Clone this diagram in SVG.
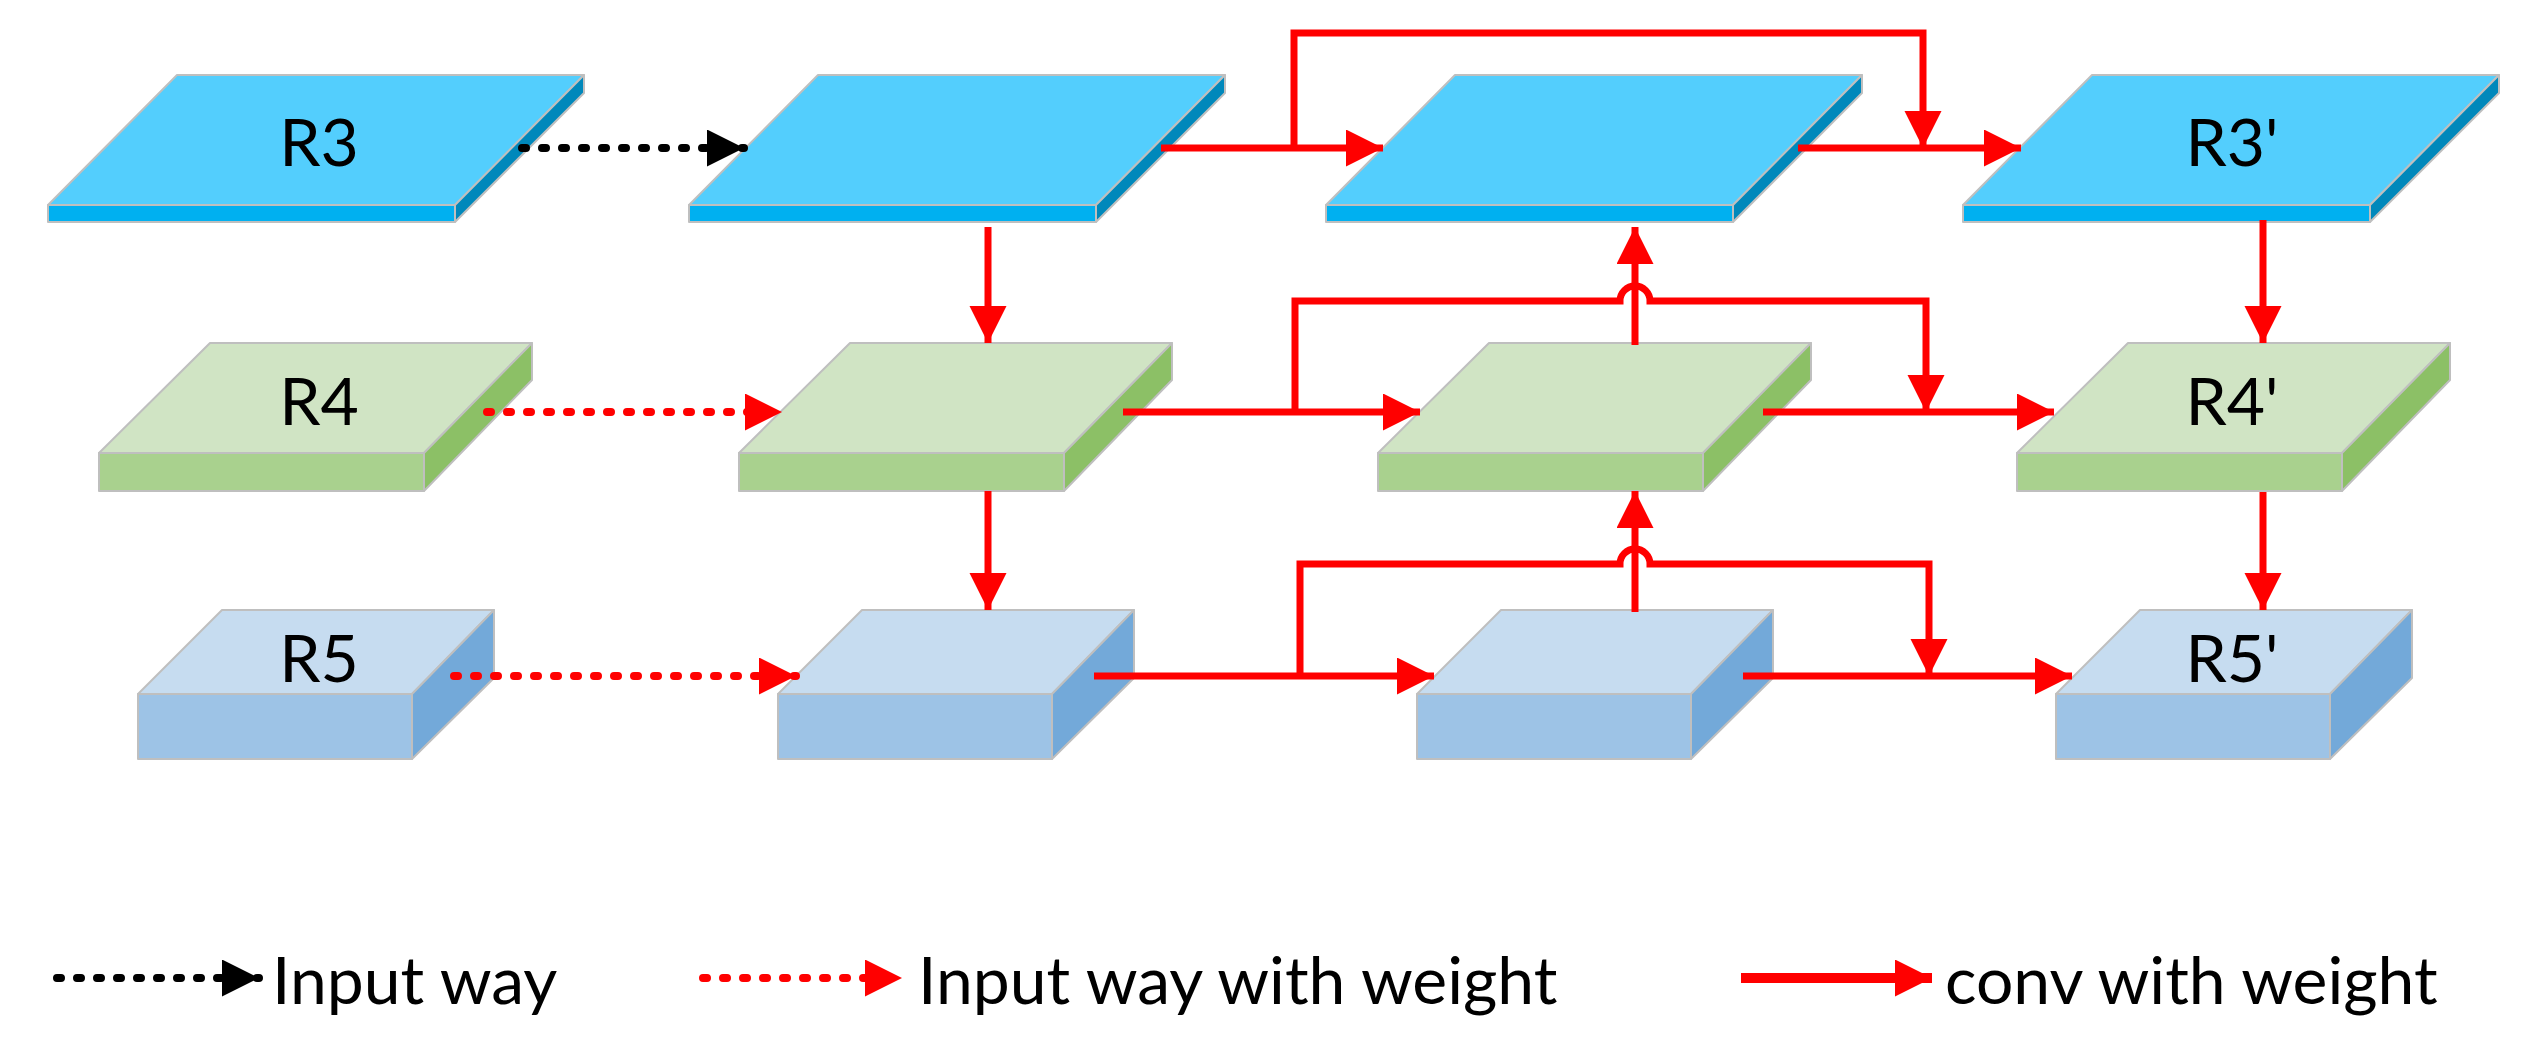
<svg xmlns="http://www.w3.org/2000/svg" width="2535" height="1044" viewBox="0 0 2535 1044">
<style>
.t{font-family:Lato,"Noto Sans",sans-serif;font-size:66px;fill:#000}
.sl{stroke:#BFBFBF;stroke-width:2;stroke-linejoin:round}
.a{fill:#53CEFD}.b{fill:#00B0F0}.c{fill:#0088BB}
.d{fill:#D0E4C4}.e{fill:#A9D18E}.f{fill:#8CC066}
.g{fill:#C6DCF0}.h{fill:#9DC3E6}.i{fill:#73A9D9}
.r{fill:none;stroke:#FF0000;stroke-width:7;marker-end:url(#ar)}
.rd{fill:none;stroke:#FF0000;stroke-width:8;stroke-dasharray:4 16;stroke-linecap:round;marker-end:url(#ar)}
.kd{fill:none;stroke:#000;stroke-width:8;stroke-dasharray:4 16;stroke-linecap:round;marker-end:url(#ak)}
</style>
<defs>
<marker id="ar" markerUnits="userSpaceOnUse" markerWidth="38" markerHeight="38" refX="37" refY="18.5" orient="auto"><path d="M0,0 L37,18.5 L0,37 z" fill="#FF0000"/></marker>
<marker id="ak" markerUnits="userSpaceOnUse" markerWidth="38" markerHeight="38" refX="37" refY="18.5" orient="auto"><path d="M0,0 L37,18.5 L0,37 z" fill="#000"/></marker>
<g id="s1"><polygon class="sl a" points="177,75 584,75 455,205 48,205"/><rect class="sl b" x="48" y="205" width="407" height="17"/><polygon class="sl c" points="455,205 584,75 584,93 455,222"/></g>
<g id="s2"><polygon class="sl d" points="210,343 532,343 424,453 99,453"/><rect class="sl e" x="99" y="453" width="325" height="38"/><polygon class="sl f" points="424,453 532,343 532,380 424,491"/></g>
<g id="s3"><polygon class="sl g" points="222,610 494,610 412,694 138,694"/><rect class="sl h" x="138" y="694" width="274" height="65"/><polygon class="sl i" points="412,694 494,610 494,678 412,759"/></g>
</defs>
<g id="R3"><use href="#s1"/><text class="t" x="319" y="166" text-anchor="middle">R3</text></g>
<g id="R4"><use href="#s2"/><text class="t" x="319" y="425" text-anchor="middle">R4</text></g>
<g id="R5"><use href="#s3"/><text class="t" x="319" y="682" text-anchor="middle">R5</text></g>
<g id="P3"><use href="#s1" x="641"/></g>
<g id="P4"><use href="#s2" x="640"/></g>
<g id="P5"><use href="#s3" x="640"/></g>
<g id="N3"><use href="#s1" x="1278"/></g>
<g id="N4"><use href="#s2" x="1279"/></g>
<g id="N5"><use href="#s3" x="1279"/></g>
<g id="R3p"><use href="#s1" x="1915"/><text class="t" x="2232" y="166" text-anchor="middle">R3'</text></g>
<g id="R4p"><use href="#s2" x="1918"/><text class="t" x="2232" y="425" text-anchor="middle">R4'</text></g>
<g id="R5p"><use href="#s3" x="1918"/><text class="t" x="2232" y="682" text-anchor="middle">R5'</text></g>
<g id="connectors">
<path class="kd" d="M522,148 L744,148"/>
<path class="rd" d="M487,412 L782,412"/>
<path class="rd" d="M454,676 L796,676"/>
<path class="r" d="M988,227 V343"/>
<path class="r" d="M988,491 V610"/>
<path class="r" d="M1161,148 H1383"/>
<path class="r" d="M1294,148 V33 H1923 V148"/>
<path class="r" d="M1798,148 H2021"/>
<path class="r" d="M1123,412 H1420"/>
<path class="r" d="M1295,412 V301 H1620 A15,15 0 0 1 1650,301 H1926 V412"/>
<path class="r" d="M1763,412 H2054"/>
<path class="r" d="M1635,345 V227"/>
<path class="r" d="M1094,676 H1434"/>
<path class="r" d="M1300,676 V564 H1620 A15,15 0 0 1 1650,564 H1929 V676"/>
<path class="r" d="M1743,676 H2072"/>
<path class="r" d="M1635,612 V491"/>
<path class="r" d="M2263,220 V343"/>
<path class="r" d="M2263,492 V610"/>
</g>
<g id="legend">
<path class="kd" d="M57,978 L259,978"/>
<text class="t" x="272" y="1004">Input way</text>
<path class="rd" d="M703,978 L902,978"/>
<text class="t" x="918" y="1004">Input way with weight</text>
<path class="r" style="stroke-width:10" d="M1741,978 L1932,978"/>
<text class="t" x="1945" y="1004">conv with weight</text>
</g>
</svg>
